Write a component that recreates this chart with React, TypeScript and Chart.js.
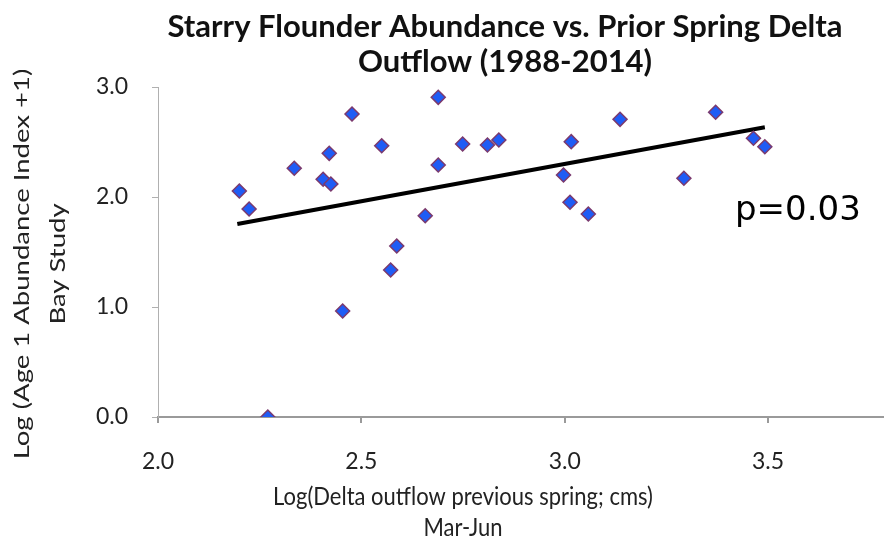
import { useEffect, useRef } from "react";
import Chart from "chart.js/auto";

// Log(Delta outflow previous spring; cms), Mar-Jun
const outflowLog = [
  2.2, 2.224, 2.335, 2.421, 2.406, 2.425, 2.477, 2.55, 2.689, 2.749, 2.81, 2.838, 2.689, 3.016,
  2.997, 3.013, 3.058, 2.657, 3.136, 3.371, 3.464, 3.492, 3.293, 2.454, 2.572, 2.587, 2.27,
];
// Log(Age 1 Abundance Index + 1), Bay Study
const abundanceLog = [
  2.055, 1.891, 2.261, 2.397, 2.161, 2.118, 2.755, 2.466, 2.906, 2.482, 2.473, 2.518, 2.291, 2.503,
  2.2, 1.952, 1.845, 1.83, 2.706, 2.77, 2.534, 2.457, 2.17, 0.964, 1.336, 1.555, 0.0,
];
const trendX = [2.195, 3.492];
const trendY = [1.755, 2.634];
const xTicks = [2.0, 2.5, 3.0, 3.5];
const yTicks = [0, 1, 2, 3];
const titleLines = ["Starry Flounder Abundance vs. Prior Spring Delta", "Outflow (1988-2014)"];
const yTitleLines = ["Log (Age 1 Abundance Index +1)", "Bay Study"];
const xTitleLines = ["Log(Delta outflow previous spring; cms)", "Mar-Jun"];
const pLabel = "p=0.03";

const FONT = "Lato, 'Open Sans', sans-serif";

function drawText(
  ctx: CanvasRenderingContext2D,
  text: string,
  x: number,
  y: number,
  angle: number,
  sAlong: number,
  sAcross: number,
  align: CanvasTextAlign = "center",
  baseline: CanvasTextBaseline = "middle"
) {
  ctx.save();
  ctx.translate(x, y);
  ctx.rotate(angle);
  ctx.scale(sAlong, sAcross);
  ctx.textAlign = align;
  ctx.textBaseline = baseline;
  ctx.fillText(text, 0, 0);
  ctx.restore();
}

const textPlugin = {
  id: "texts",
  afterDraw(chart: any) {
    const ctx = chart.ctx as CanvasRenderingContext2D;
    const ca = chart.chartArea;
    ctx.save();
    // title
    ctx.fillStyle = "#111";
    ctx.font = `bold 31px ${FONT}`;
    drawText(ctx, titleLines[0], 505, 27, 0, 1, 1.0);
    drawText(ctx, titleLines[1], 505, 62, 0, 1, 1.0);
    // x title
    ctx.font = `22px ${FONT}`;
    ctx.fillStyle = "#222";
    drawText(ctx, xTitleLines[0], 463, ca.bottom + 80, 0, 1, 1.15);
    drawText(ctx, xTitleLines[1], 463, ca.bottom + 111, 0, 1, 1.15);
    // y title
    drawText(ctx, yTitleLines[0], 22, 264, -Math.PI / 2, 1.25, 1);
    drawText(ctx, yTitleLines[1], 58, 264, -Math.PI / 2, 1.25, 1);
    // p value
    ctx.font = `34px 'DejaVu Sans', sans-serif`;
    ctx.fillStyle = "#000";
    drawText(ctx, pLabel, 735, 220, 0, 1, 1, "left", "alphabetic");
    ctx.restore();
  },
};

export default function App() {
  const ref = useRef<HTMLCanvasElement | null>(null);
  useEffect(() => {
    if (!ref.current) return;
    const points = outflowLog.map((x, i) => ({ x, y: abundanceLog[i] }));
    const trend = trendX.map((x, i) => ({ x, y: trendY[i] }));
    const chart = new Chart(ref.current, {
      type: "scatter",
      data: {
        datasets: [
          {
            label: "Abundance",
            data: points,
            pointStyle: "rectRot",
            pointRadius: 7,
            backgroundColor: "#1f5cf5",
            borderColor: "#7b3a6e",
            borderWidth: 1.5,
            order: 0,
          } as any,
          {
            label: "Trend",
            type: "line",
            data: trend,
            borderColor: "#000",
            borderWidth: 4,
            pointRadius: 0,
            showLine: true,
            fill: false,
            order: 1,
          } as any,
        ],
      },
      options: {
        responsive: false,
        animation: false,
        layout: { autoPadding: false, padding: { top: 87, left: 0, right: 0, bottom: 0 } },
        plugins: {
          legend: { display: false },
          tooltip: { enabled: false },
          title: { display: false },
        },
        scales: {
          x: {
            type: "linear",
            min: 2.0,
            max: 3.785,
            afterBuildTicks: (s: any) => {
              s.ticks = xTicks.map((v) => ({ value: v }));
            },
            afterFit: (s: any) => {
              s.height = 125;
            },
            ticks: {
              padding: 25,
              color: "#222",
              font: { family: FONT, size: 23 },
              callback: (v: any) => Number(v).toFixed(1),
            },
            grid: {
              display: true,
              drawOnChartArea: false,
              drawTicks: true,
              tickLength: 6,
              color: "#9a9a9a",
              lineWidth: 2,
            },
            border: { display: true, color: "#9a9a9a", width: 2 },
          },
          y: {
            type: "linear",
            min: 0,
            max: 3,
            afterBuildTicks: (s: any) => {
              s.ticks = yTicks.map((v) => ({ value: v }));
            },
            afterFit: (s: any) => {
              s.width = 158;
            },
            ticks: {
              padding: 24,
              color: "#222",
              font: { family: FONT, size: 23 },
              callback: (v: any) => Number(v).toFixed(1),
            },
            grid: {
              display: true,
              drawOnChartArea: false,
              drawTicks: true,
              tickLength: 6,
              color: "#b0b0b0",
              lineWidth: 1,
            },
            border: { display: true, color: "#b0b0b0", width: 1 },
          },
        },
      },
      plugins: [textPlugin],
    });
    return () => chart.destroy();
  }, []);
  return (
    <div style={{ position: "absolute", left: 0, top: 0, width: 884, height: 542, background: "#fff" }}>
      <canvas ref={ref} width={884} height={542} style={{ display: "block" }} />
    </div>
  );
}
